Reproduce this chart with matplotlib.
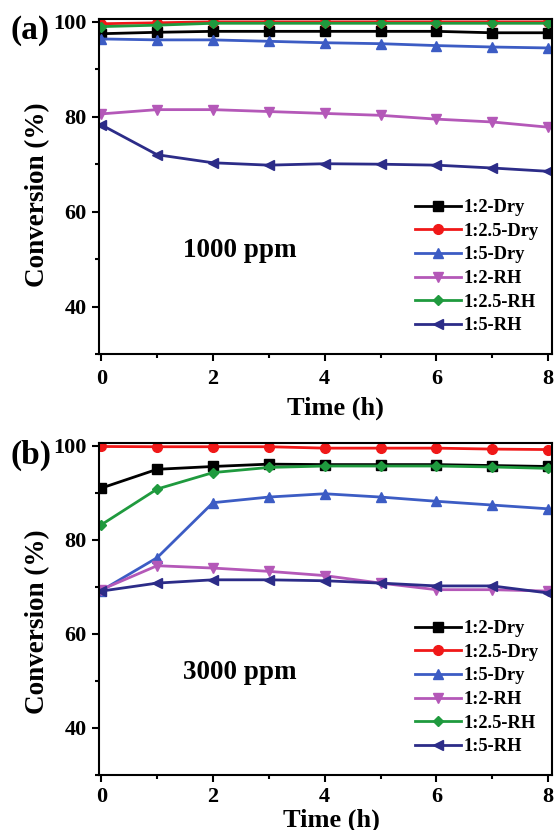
import numpy as np
import matplotlib
matplotlib.use('Agg')
import matplotlib.pyplot as plt
from matplotlib.ticker import MultipleLocator

plt.rcParams['font.family'] = ['Liberation Serif', 'DejaVu Serif']
plt.rcParams['font.weight'] = 'bold'

t = np.arange(0, 9)
labels = ['1:2-Dry', '1:2.5-Dry', '1:5-Dry', '1:2-RH', '1:2.5-RH', '1:5-RH']

# (a) 1000 ppm
a_12dry = [97.5, 97.8, 98.0, 98.0, 98.0, 98.0, 98.0, 97.7, 97.7]
a_125dry = [99.6, 99.8, 100.0, 100.0, 100.0, 100.0, 100.0, 100.0, 100.0]
a_15dry = [96.4, 96.2, 96.2, 95.9, 95.6, 95.4, 95.0, 94.7, 94.5]
a_12rh = [80.6, 81.5, 81.5, 81.1, 80.7, 80.3, 79.5, 78.9, 77.8]
a_125rh = [99.0, 99.3, 99.7, 99.7, 99.7, 99.7, 99.7, 99.7, 99.7]
a_15rh = [78.3, 72.0, 70.3, 69.8, 70.1, 70.0, 69.8, 69.2, 68.5]

# (b) 3000 ppm
b_12dry = [91.0, 95.0, 95.6, 96.1, 96.0, 96.0, 96.0, 95.8, 95.6]
b_125dry = [99.85, 99.8, 99.8, 99.8, 99.5, 99.5, 99.5, 99.3, 99.2]
b_15dry = [69.2, 76.2, 87.9, 89.1, 89.8, 89.1, 88.2, 87.4, 86.6]
b_12rh = [69.4, 74.5, 74.0, 73.3, 72.4, 70.8, 69.4, 69.4, 69.1]
b_125rh = [83.2, 90.8, 94.3, 95.4, 95.7, 95.7, 95.7, 95.5, 95.2]
b_15rh = [69.1, 70.8, 71.5, 71.5, 71.3, 70.8, 70.2, 70.2, 68.7]

colors = ['#000000', '#f01818', '#3c5cc4', '#b458b8', '#1f9a3e', '#2c2c88']
markers = ['s', 'o', '^', 'v', 'D', '<']
msizes = [7, 7, 7, 7, 5.5, 7]

fig = plt.figure(figsize=(5.55, 8.3), dpi=100)
ax1 = fig.add_axes([0.1784, 0.5735, 0.8162, 0.4036])
ax2 = fig.add_axes([0.1784, 0.0663, 0.8162, 0.4000])


def panel(ax, series, txt, xl_y, xl_x, yl_y, xpad):
    for y, c, m, ms, lab in zip(series, colors, markers, msizes, labels):
        ax.plot(t, y, color=c, marker=m, ms=ms, lw=2, label=lab)
    ax.set_xlim(-0.04, 8.07)
    ax.set_ylim(30, 100.6)
    ax.xaxis.set_major_locator(MultipleLocator(2))
    ax.xaxis.set_minor_locator(MultipleLocator(1))
    ax.yaxis.set_minor_locator(MultipleLocator(10))
    ax.set_yticks([40, 60, 80, 100])
    ax.tick_params(which='major', direction='out', length=5, width=1.5, labelsize=16, pad=4)
    ax.tick_params(which='minor', direction='out', length=3, width=1.5)
    ax.tick_params(axis='x', which='major', pad=xpad)
    for s in ax.spines.values():
        s.set_linewidth(1.5)
    ax.set_xlabel('Time (h)', fontsize=19, fontweight='bold')
    ax.set_ylabel('Conversion (%)', fontsize=19.5, fontweight='bold')
    ax.xaxis.set_label_coords(xl_x, xl_y)
    ax.yaxis.set_label_coords(-0.108, yl_y)
    ax.text(0.185, 0.29, txt, transform=ax.transAxes, fontsize=19.5,
            fontweight='bold', va='baseline')
    ax.legend(loc='lower right', frameon=False, fontsize=13.3,
              handlelength=2.5, handletextpad=0.15, labelspacing=0.36,
              borderaxespad=0.3, bbox_to_anchor=(1.0, 0.02))


panel(ax1, [a_12dry, a_125dry, a_15dry, a_12rh, a_125rh, a_15rh],
      '1000 ppm', -0.128, 0.523, 0.475, 6)
panel(ax2, [b_12dry, b_125dry, b_15dry, b_12rh, b_125rh, b_15rh],
      '3000 ppm', -0.1, 0.514, 0.461, 4)

fig.text(10 / 555, 1 - 31 / 830, '(a)', fontsize=24, fontweight='bold', va='center')
fig.text(10 / 555, 1 - 455 / 830, '(b)', fontsize=24, fontweight='bold', va='center')

fig.savefig('out.png', dpi=100)
